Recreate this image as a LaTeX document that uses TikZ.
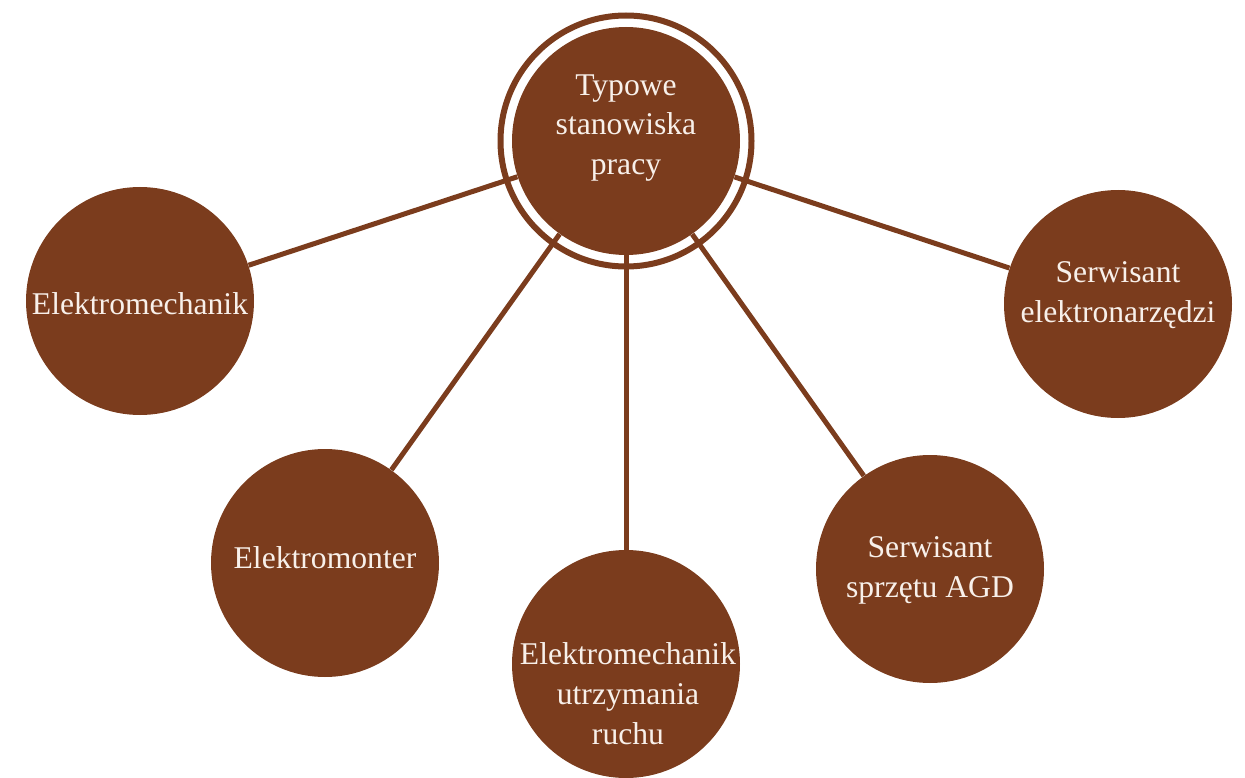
\documentclass[tikz,border=0pt]{standalone}
\usepackage{fontspec}
\setmainfont{Liberation Serif}
\usetikzlibrary{calc}
\definecolor{brown}{HTML}{7B3C1D}
\definecolor{paper}{HTML}{F8F0EA}
\begin{document}
\begin{tikzpicture}[
  disc/.style={circle, fill=brown, draw=none, minimum size=4.56cm, inner sep=0pt},
  caption/.style={text=paper, align=center, font=\fontsize{18}{22.7}\selectfont, inner sep=0pt},
  conn/.style={draw=brown, line width=0.1cm},
  ring/.style={draw=brown, line width=0.12cm}
]
\useasboundingbox (0,0) rectangle (24.9,-15.56);

% hub and its outer ring
\node[disc] (hub) at (12.52,-2.82) {};
\draw[ring] (hub.center) circle (2.51cm);

% surrounding job positions
\node[disc] (e1) at (2.80,-6.02) {};
\node[disc] (e2) at (6.50,-11.26) {};
\node[disc] (e3) at (12.52,-13.28) {};
\node[disc] (e4) at (18.60,-11.38) {};
\node[disc] (e5) at (22.36,-6.08) {};

% spokes from the hub
\foreach \n in {e1,e2,e3,e4,e5}
  \draw[conn] (hub) -- (\n);

% labels
\node[caption] (thub) at (12.52,-2.56) {Typowe\\stanowiska\\pracy};
\node[caption] (t1) at (2.80,-6.08) {Elektromechanik};
\node[caption] (t2) at (6.50,-11.16) {Elektromonter};
\node[caption] (t3) at (12.56,-13.88) {Elektromechanik\\utrzymania\\ruchu};
\node[caption] (t4) at (18.60,-11.40) {Serwisant\\sprzętu AGD};
\node[caption] (t5) at (22.36,-5.90) {Serwisant\\elektronarzędzi};
\end{tikzpicture}
\end{document}
